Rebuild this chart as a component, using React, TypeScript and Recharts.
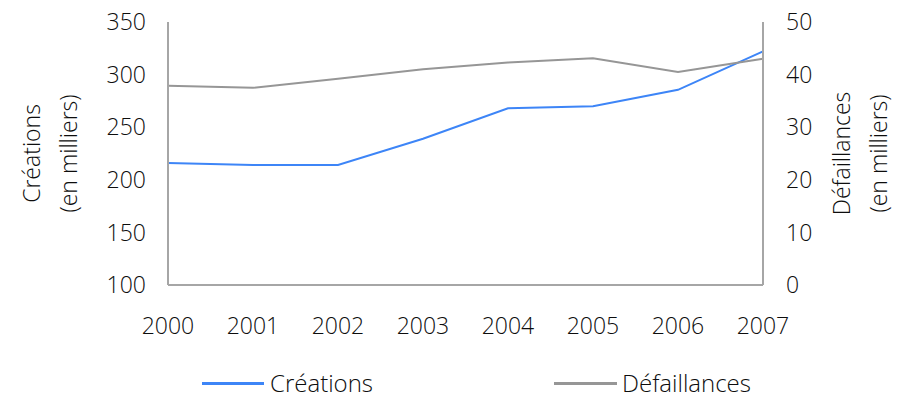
import { LineChart, Line, XAxis, YAxis } from "recharts";

const years = ["2000", "2001", "2002", "2003", "2004", "2005", "2006", "2007"];
const creations = [216, 214, 214, 239, 268, 270, 285.5, 322];
const defaillances = [37.9, 37.5, 39.2, 41.0, 42.3, 43.1, 40.5, 43.0];
const leftTicks = [100, 150, 200, 250, 300, 350];
const rightTicks = [0, 10, 20, 30, 40, 50];

const FONT = "'Open Sans', 'Noto Sans', sans-serif";
const TEXT = "#0d0d0d";
const AXIS = "#a6a6a6";
const BLUE = "#3d85f7";
const GREY = "#969696";

const data = years.map((y, i) => ({ year: y, creations: creations[i], defaillances: defaillances[i] }));

function axisTitle(x1: number, x2: number, line1: string, line2: string) {
  return (props: any) => {
    const vb = props.viewBox || {};
    const cy = vb.y + vb.height / 2;
    return (
      <g fontFamily={FONT} fontSize={23} fontWeight={300} fill={TEXT}>
        <text x={x1} y={cy} textAnchor="middle" dominantBaseline="central" transform={`rotate(-90 ${x1} ${cy})`}>
          {line1}
        </text>
        <text x={x2} y={cy} textAnchor="middle" dominantBaseline="central" transform={`rotate(-90 ${x2} ${cy})`}>
          {line2}
        </text>
      </g>
    );
  };
}

export default function App() {
  const tick = { fill: TEXT, fontSize: 23, fontFamily: FONT, fontWeight: 300 };
  return (
    <div style={{ position: "absolute", left: 0, top: 0, width: 903, height: 398, background: "#fff" }}>
      <LineChart width={903} height={398} data={data} margin={{ top: 22, right: 0, bottom: 0, left: 0 }}>
        <XAxis
          dataKey="year"
          height={113}
          tickLine={false}
          tickSize={0}
          tickMargin={33}
          axisLine={{ stroke: AXIS, strokeWidth: 2 }}
          tick={tick}
          interval={0}
        />
        <YAxis
          yAxisId="left"
          width={168}
          domain={[100, 350]}
          ticks={leftTicks}
          tickLine={false}
          tickSize={0}
          tickMargin={22}
          axisLine={{ stroke: AXIS, strokeWidth: 2 }}
          tick={tick}
          label={{ content: axisTitle(31, 68, "Créations", "(en milliers)") }}
        />
        <YAxis
          yAxisId="right"
          orientation="right"
          width={140}
          domain={[0, 50]}
          ticks={rightTicks}
          tickLine={false}
          tickSize={0}
          tickMargin={23}
          axisLine={{ stroke: AXIS, strokeWidth: 2 }}
          tick={tick}
          label={{ content: axisTitle(841, 878, "Défaillances", "(en milliers)") }}
        />
        <Line yAxisId="left" dataKey="creations" stroke={BLUE} strokeWidth={2} dot={false} isAnimationActive={false} />
        <Line yAxisId="right" dataKey="defaillances" stroke={GREY} strokeWidth={2} dot={false} isAnimationActive={false} />
      </LineChart>
      <div style={{ position: "absolute", top: 370, left: 0, width: 903, fontFamily: FONT, fontWeight: 300, fontSize: 24, color: TEXT }}>
        <div style={{ position: "absolute", left: 202, top: 12, width: 62, height: 3, background: BLUE }} />
        <div style={{ position: "absolute", left: 270, top: -2, lineHeight: "30px" }}>Créations</div>
        <div style={{ position: "absolute", left: 554, top: 12, width: 63, height: 3, background: GREY }} />
        <div style={{ position: "absolute", left: 622, top: -2, lineHeight: "30px" }}>Défaillances</div>
      </div>
    </div>
  );
}
